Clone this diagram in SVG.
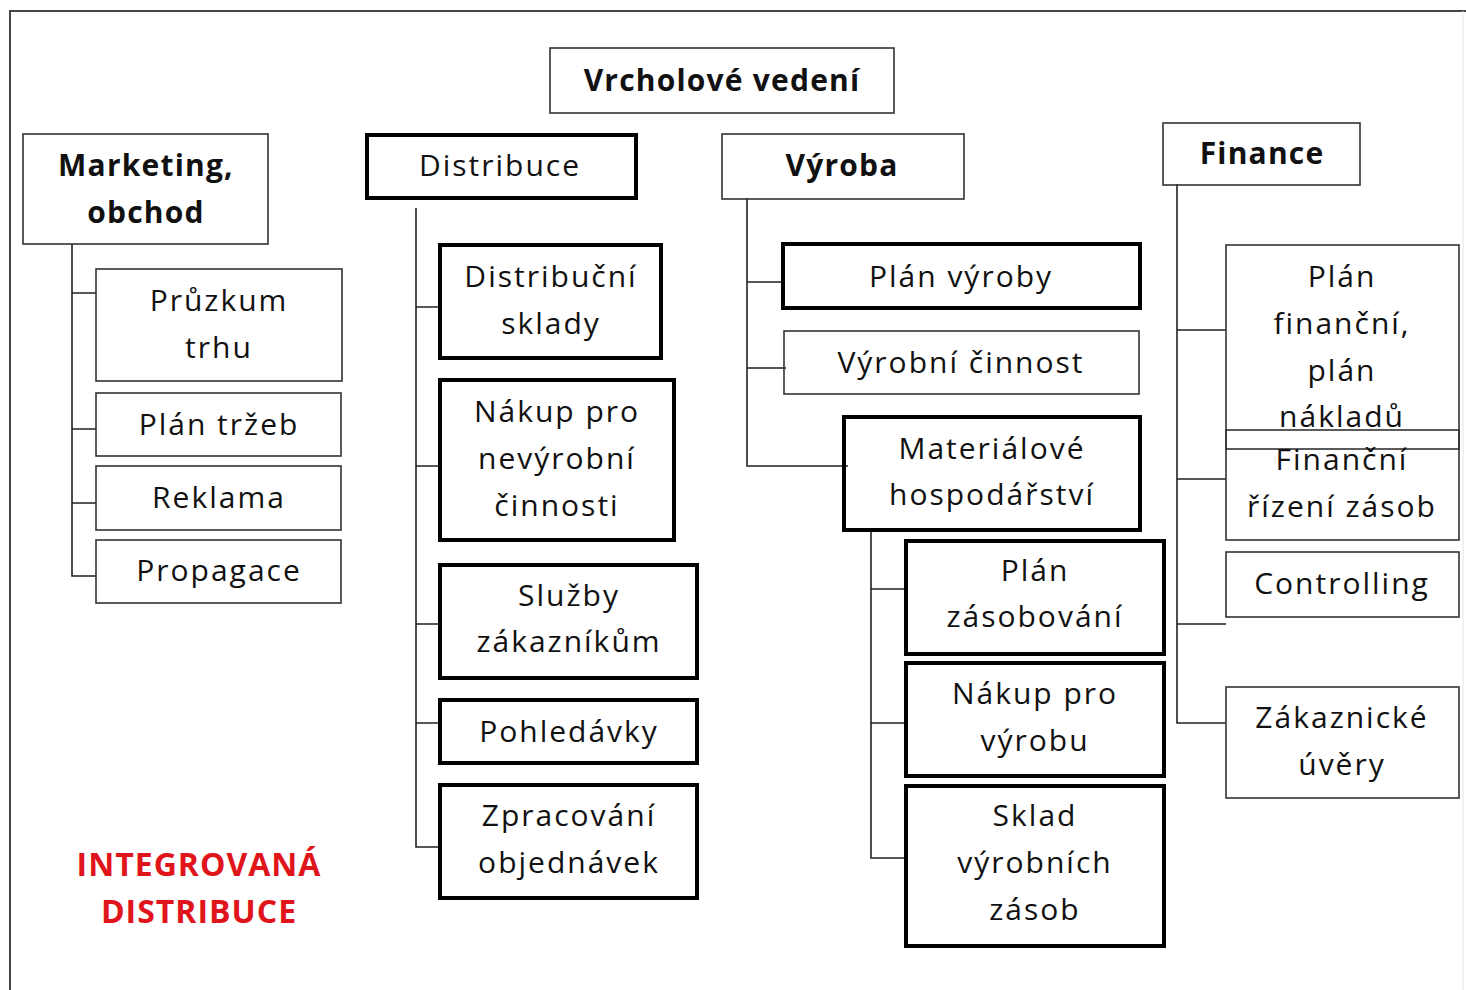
<svg xmlns="http://www.w3.org/2000/svg" width="1466" height="990" viewBox="0 0 1466 990">
<style>
.thin{fill:none;stroke:#333;stroke-width:1.6}
.thick{fill:none;stroke:#000;stroke-width:4}
.c{fill:none;stroke:#222;stroke-width:1.6}
text{font-family:"Open Sans","Noto Sans","Liberation Sans",sans-serif;font-size:30px;fill:#111;text-anchor:middle;letter-spacing:2px}
.b{font-weight:bold;letter-spacing:1.2px}
.red{fill:#e0141b;font-weight:bold;font-size:32px;letter-spacing:1px}
</style>
<rect x="0" y="0" width="1466" height="990" fill="#fff"/>
<path d="M10,990 V11 H1466" fill="none" stroke="#444" stroke-width="2"/>
<path d="M1463,11 V990" fill="none" stroke="#e4e4e4" stroke-width="1"/>

<g id="connectors">
<path class="c" d="M72,244 V576 H96 M72,293 H96 M72,429 H96 M72,503 H96"/>
<path class="c" d="M416,208 V847 H440 M416,307 H440 M416,466 H440 M416,624 H440 M416,723 H440"/>
<path class="c" d="M747,198 V466 H848 M747,282 H783 M747,368 H786"/>
<path class="c" d="M871,530 V858 H906 M871,589 H906 M871,723 H906"/>
<path class="c" d="M1177,184 V723 H1226 M1177,330 H1226 M1177,479 H1226 M1177,624 H1226"/>
</g>

<g id="top"><rect class="thin" x="550" y="48" width="344" height="65"/><text class="b" x="722" y="91">Vrcholové vedení</text></g>

<g id="marketing"><rect class="thin" x="23" y="134" width="245" height="110"/><text class="b" x="146" y="176">Marketing,</text><text class="b" x="146" y="223">obchod</text></g>
<g id="distribuce"><rect class="thick" x="367" y="135" width="269" height="63"/><text x="500" y="176">Distribuce</text></g>
<g id="vyroba"><rect class="thin" x="722" y="134" width="242" height="65"/><text class="b" x="842" y="176">Výroba</text></g>
<g id="finance"><rect class="thin" x="1163" y="123" width="197" height="62"/><text class="b" x="1262" y="164">Finance</text></g>

<g id="pruzkum"><rect class="thin" x="96" y="269" width="246" height="112"/><text x="219" y="311">Průzkum</text><text x="219" y="358">trhu</text></g>
<g id="plan-trzeb"><rect class="thin" x="96" y="393" width="245" height="63"/><text x="219" y="435">Plán tržeb</text></g>
<g id="reklama"><rect class="thin" x="96" y="466" width="245" height="64"/><text x="219" y="508">Reklama</text></g>
<g id="propagace"><rect class="thin" x="96" y="540" width="245" height="63"/><text x="219" y="581">Propagace</text></g>

<g id="distribucni-sklady"><rect class="thick" x="440" y="245" width="221" height="113"/><text x="551" y="287">Distribuční</text><text x="551" y="334">sklady</text></g>
<g id="nakup-nevyrobni"><rect class="thick" x="440" y="380" width="234" height="160"/><text x="557" y="422">Nákup pro</text><text x="557" y="469">nevýrobní</text><text x="557" y="516">činnosti</text></g>
<g id="sluzby"><rect class="thick" x="440" y="565" width="257" height="113"/><text x="569" y="606">Služby</text><text x="569" y="652">zákazníkům</text></g>
<g id="pohledavky"><rect class="thick" x="440" y="700" width="257" height="63"/><text x="569" y="742">Pohledávky</text></g>
<g id="zpracovani"><rect class="thick" x="440" y="785" width="257" height="113"/><text x="569" y="826">Zpracování</text><text x="569" y="873">objednávek</text></g>

<g id="plan-vyroby"><rect class="thick" x="783" y="244" width="357" height="64"/><text x="961" y="287">Plán výroby</text></g>
<g id="vyrobni-cinnost"><rect class="thin" x="784" y="331" width="355" height="63"/><text x="961" y="373">Výrobní činnost</text></g>
<g id="materialove"><rect class="thick" x="844" y="417" width="296" height="113"/><text x="992" y="459">Materiálové</text><text x="992" y="505">hospodářství</text></g>

<g id="plan-zasobovani"><rect class="thick" x="906" y="541" width="258" height="113"/><text x="1035" y="581">Plán</text><text x="1035" y="627">zásobování</text></g>
<g id="nakup-vyrobu"><rect class="thick" x="906" y="663" width="258" height="113"/><text x="1035" y="704">Nákup pro</text><text x="1035" y="751">výrobu</text></g>
<g id="sklad"><rect class="thick" x="906" y="786" width="258" height="160"/><text x="1035" y="826">Sklad</text><text x="1035" y="873">výrobních</text><text x="1035" y="920">zásob</text></g>

<g id="plan-financni"><rect class="thin" x="1226" y="245" width="233" height="204"/><text x="1342" y="287">Plán</text><text x="1342" y="334">finanční,</text><text x="1342" y="381">plán</text><text x="1342" y="427">nákladů</text></g>
<g id="financni-rizeni"><rect class="thin" x="1226" y="430" width="233" height="110"/><text x="1342" y="470">Finanční</text><text x="1342" y="517">řízení zásob</text></g>
<g id="controlling"><rect class="thin" x="1226" y="552" width="233" height="65"/><text x="1342" y="594">Controlling</text></g>
<g id="zakaznicke"><rect class="thin" x="1226" y="687" width="233" height="111"/><text x="1342" y="728">Zákaznické</text><text x="1342" y="775">úvěry</text></g>

<g id="label"><text class="red" x="199" y="876">INTEGROVANÁ</text><text class="red" x="199" y="923">DISTRIBUCE</text></g>
</svg>
